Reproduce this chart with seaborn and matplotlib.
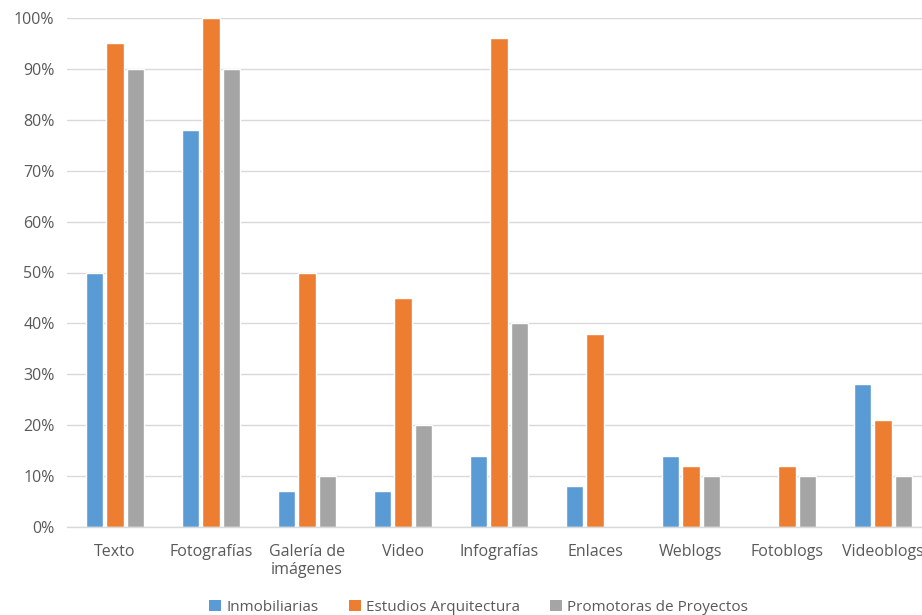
import matplotlib
matplotlib.use("Agg")
import matplotlib.pyplot as plt
from matplotlib.patches import Patch
from matplotlib.ticker import PercentFormatter
import seaborn as sns
import pandas as pd

categories = ["Texto", "Fotografías", "Galería de\nimágenes", "Video", "Infografías",
              "Enlaces", "Weblogs", "Fotoblogs", "Videoblogs"]
series = ["Inmobiliarias", "Estudios Arquitectura", "Promotoras de Proyectos"]
inmobiliarias = [50, 78, 7, 7, 14, 8, 14, 0, 28]
estudios = [95, 100, 50, 45, 96, 38, 12, 12, 21]
promotoras = [90, 90, 10, 20, 40, 0, 10, 10, 10]
colors = ["#5B9BD5", "#ED7D31", "#A5A5A5"]

rows = []
for name, vals in zip(series, [inmobiliarias, estudios, promotoras]):
    for cat, v in zip(categories, vals):
        rows.append({"categoria": cat, "serie": name, "valor": v / 100})
df = pd.DataFrame(rows)

sns.set_theme(style="white")
plt.rcParams["font.family"] = ["Open Sans", "DejaVu Sans"]

fig = plt.figure(figsize=(9.22, 6.15), dpi=100)
ax = fig.add_axes([67 / 922, 88 / 615, 864 / 922, 509 / 615])

sns.barplot(data=df, x="categoria", y="valor", hue="serie", order=categories,
            hue_order=series, palette=colors, width=0.656, gap=0.19,
            saturation=1, errorbar=None, legend=False, ax=ax)

ax.set_ylim(0, 1)
ax.set_xlim(-0.5, len(categories) - 0.5)
ax.yaxis.set_major_formatter(PercentFormatter(1.0, decimals=0))
ax.set_yticks([i / 10 for i in range(11)])
ax.grid(axis="y", color="#D9D9D9", linewidth=1)
ax.set_axisbelow(True)
for s in ["top", "right", "left"]:
    ax.spines[s].set_visible(False)
ax.spines["bottom"].set_color("#D9D9D9")
ax.spines["bottom"].set_linewidth(1)
ax.set_xlabel("")
ax.set_ylabel("")
ax.tick_params(axis="both", length=0, labelsize=11.5, labelcolor="#595959")
ax.tick_params(axis="y", pad=9)
ax.tick_params(axis="x", pad=12)

handles = [Patch(facecolor=c, edgecolor="none") for c in colors]
fig.legend(handles, series, loc="lower center", bbox_to_anchor=(0.519, -0.022),
           ncol=3, frameon=False, fontsize=11, handlelength=0.8, handleheight=0.8,
           handletextpad=0.3, columnspacing=2.0, labelcolor="#595959")

fig.savefig("out.png", dpi=100, facecolor="white")
